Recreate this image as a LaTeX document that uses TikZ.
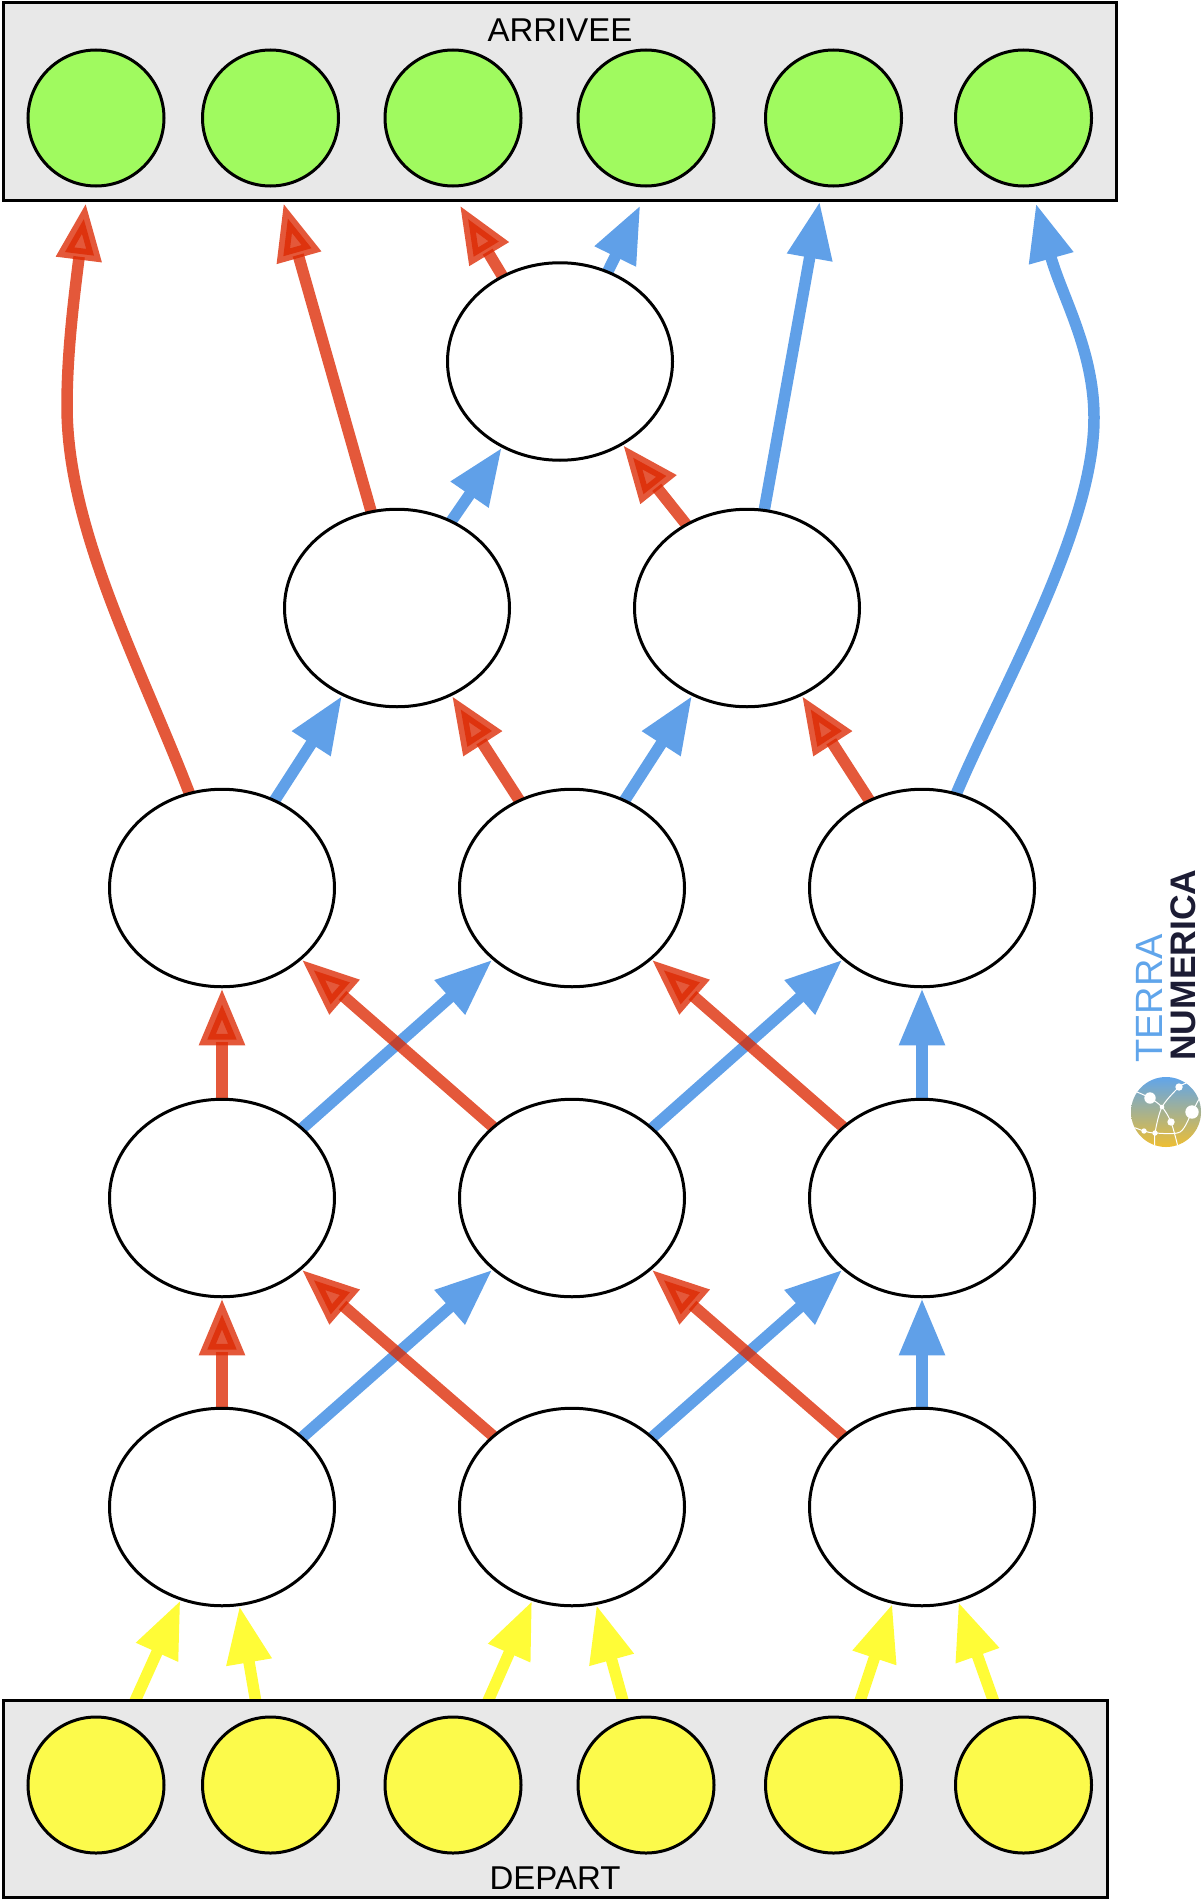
\documentclass[tikz,border=0pt]{standalone}
\usepackage{fontspec}
\setmainfont{Liberation Sans}
\usetikzlibrary{arrows.meta,shapes.geometric,backgrounds}
\definecolor{redlink}{RGB}{220,41,2}
\definecolor{bluelink}{RGB}{96,160,232}
\definecolor{yellowlink}{RGB}{255,252,55}
\definecolor{greenball}{RGB}{160,250,95}
\definecolor{yellowball}{RGB}{252,250,75}
\definecolor{boxgrey}{RGB}{232,232,232}
\definecolor{logoblue}{RGB}{96,165,235}
\definecolor{logodark}{RGB}{28,28,52}
\definecolor{globemid}{RGB}{80,160,130}
\definecolor{globelow}{RGB}{238,190,50}
\tikzset{
  etat/.style={draw=black,line width=3pt,fill=white,ellipse,inner sep=0pt,outer sep=0pt,minimum width=225pt,minimum height=197.5pt},
  ball/.style={draw=black,line width=3pt,circle,inner sep=0pt,outer sep=0pt,minimum size=136pt},
  panel/.style={draw=black,line width=3pt,fill=boxgrey,inner sep=0pt,outer sep=0pt},
  title/.style={font=\fontsize{33}{33}\selectfont,inner sep=0pt},
  linkbase/.style={line width=11.5pt,shorten >=1.5pt},
  solidlink/.style={linkbase,draw=#1,-{Triangle[length=57pt,width=43pt]}},
  redstroke/.style={linkbase,draw=redlink,draw opacity=.78,-{Triangle[open,length=57pt,width=43pt]}},
  redfill/.style={linkbase,draw=redlink,draw opacity=0,fill opacity=.78,-{Triangle[length=57pt,width=43pt]}},
  net/.style={draw=white,line width=1pt}
}
\newcommand{\redarrow}[1]{\draw[redstroke] #1; \draw[redfill] #1;}
\newcommand{\bluearrow}[1]{\draw[solidlink=bluelink] #1;}
\newcommand{\yellowarrow}[1]{\draw[solidlink=yellowlink] #1;}
\newcommand{\netdot}[2]{\fill[white] #1 circle (#2);}
\begin{document}
\begin{tikzpicture}[x=1pt,y=-1pt]
\useasboundingbox (0,0) rectangle (1202,1900);
% boxes
\node[panel,minimum width=1113pt,minimum height=197pt] (arrivee) at (559.5,101.5) {};
\node[panel,minimum width=1104.5pt,minimum height=197pt] (depart) at (555.25,1799) {};
\node[title] (arriveetxt) at (560,30) {ARRIVEE};
\node[title] (departtxt) at (555,1878) {DEPART};
% balls
\node[ball,fill=greenball] (g1) at (96,118) {};
\node[ball,fill=greenball] (g2) at (270.5,118) {};
\node[ball,fill=greenball] (g3) at (453,118) {};
\node[ball,fill=greenball] (g4) at (646,118) {};
\node[ball,fill=greenball] (g5) at (833.5,118) {};
\node[ball,fill=greenball] (g6) at (1023.5,118) {};
\node[ball,fill=yellowball] (y1) at (96,1785) {};
\node[ball,fill=yellowball] (y2) at (270.5,1785) {};
\node[ball,fill=yellowball] (y3) at (453,1785) {};
\node[ball,fill=yellowball] (y4) at (646,1785) {};
\node[ball,fill=yellowball] (y5) at (833.5,1785) {};
\node[ball,fill=yellowball] (y6) at (1023.5,1785) {};
% states
\node[etat] (e1) at (560,361.5) {};
\node[etat] (e21) at (397,608) {};
\node[etat] (e22) at (747,608) {};
\node[etat] (e31) at (222,888) {};
\node[etat] (e32) at (572,888) {};
\node[etat] (e33) at (922,888) {};
\node[etat] (e41) at (222,1198) {};
\node[etat] (e42) at (572,1198) {};
\node[etat] (e43) at (922,1198) {};
\node[etat] (e51) at (222,1507) {};
\node[etat] (e52) at (572,1507) {};
\node[etat] (e53) at (922,1507) {};
% free ends
\coordinate (t1) at (86,201.5);
\coordinate (t2) at (283,201.5);
\coordinate (t3) at (459,204);
\coordinate (t4) at (641,204);
\coordinate (t5) at (820,200);
\coordinate (t6) at (1035.5,202);
\coordinate (s1) at (135,1701);
\coordinate (s2) at (255.7,1701);
\coordinate (s3) at (488,1701);
\coordinate (s4) at (623,1701);
\coordinate (s5) at (860,1701);
\coordinate (s6) at (993.6,1701);
\begin{pgfonlayer}{background}
\yellowarrow{(s1) -- (e51.246)}
\yellowarrow{(s2) -- (e51.280)}
\yellowarrow{(s3) -- (e52.247)}
\yellowarrow{(s4) -- (e52.284)}
\yellowarrow{(s5) -- (e53.253)}
\yellowarrow{(s6) -- (e53.291)}
\bluearrow{(e51.41) -- (e42.222)}
\bluearrow{(e52.41) -- (e43.222)}
\bluearrow{(e53.north) -- (e43.south)}
\bluearrow{(e41.41) -- (e32.222)}
\bluearrow{(e42.41) -- (e33.222)}
\bluearrow{(e43.north) -- (e33.south)}
\bluearrow{(e31.59) -- (e21.238)}
\bluearrow{(e32.59) -- (e22.238)}
\bluearrow{(e21.58) -- (e1.236)}
\bluearrow{(e22.80) -- (t5)}
\bluearrow{(e1.62) -- (t4)}
\bluearrow{(e33.70) .. controls (1000,690) and (1094,530) .. (1094,418) .. controls (1094,350) and (1062,297) .. (t6)}
\redarrow{(e51.north) -- (e41.south)}
\redarrow{(e52.138) -- (e41.318)}
\redarrow{(e53.138) -- (e42.318)}
\redarrow{(e41.north) -- (e31.south)}
\redarrow{(e42.138) -- (e31.318)}
\redarrow{(e43.138) -- (e32.318)}
\redarrow{(e32.121) -- (e21.302)}
\redarrow{(e33.121) -- (e22.302)}
\redarrow{(e22.126) -- (e1.307)}
\redarrow{(e21.105) -- (t2)}
\redarrow{(e1.124) -- (t3)}
\redarrow{(e31.109) .. controls (140,665) and (67,530) .. (67,406) .. controls (67,350) and (75,290) .. (t1)}
\end{pgfonlayer}
% logo
\node[rotate=90,font=\fontsize{38}{38}\selectfont,text=logoblue,inner sep=0pt,anchor=south west] (terra) at (1163,1063) {TERRA};
\node[rotate=90,font=\fontsize{35.5}{36}\selectfont\bfseries,text=logodark,inner sep=0pt,anchor=south west] (numerica) at (1196,1061) {NUMERICA};
\begin{scope}
\clip (1166,1112) circle (35);
\shade[shading angle=-15,top color=logoblue,middle color=globemid,bottom color=globelow] (1131,1077) rectangle (1201,1147);
\draw[net] plot[smooth] coordinates {(1137,1092) (1150,1098) (1162,1107) (1171,1122) (1178,1147)};
\draw[net] plot[smooth] coordinates {(1187,1083) (1179,1087) (1162,1107) (1155,1133) (1155,1149)};
\draw[net] plot[smooth] coordinates {(1133,1127) (1144,1131) (1155,1133) (1180,1132) (1192,1112) (1200,1097)};
\netdot{(1150,1098)}{5.7}
\netdot{(1179,1087)}{3.7}
\netdot{(1162,1107)}{2.3}
\netdot{(1171,1122)}{3.7}
\netdot{(1192,1112)}{6.7}
\netdot{(1144,1131)}{2.7}
\netdot{(1155,1133)}{2.7}
\end{scope}
\end{tikzpicture}
\end{document}
